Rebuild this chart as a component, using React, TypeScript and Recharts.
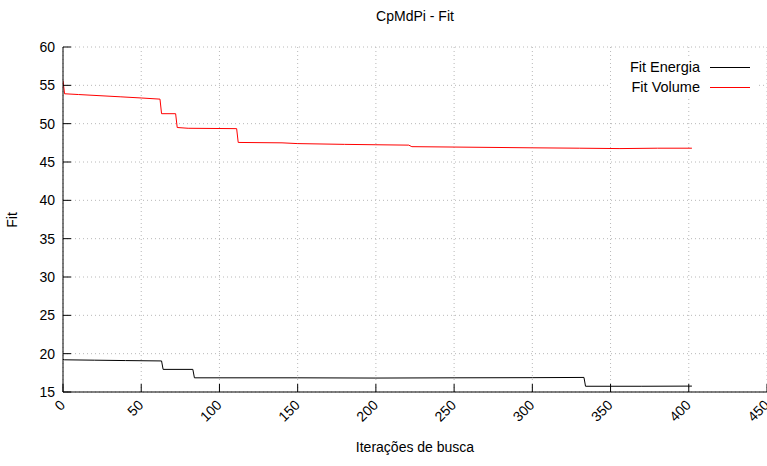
import React from 'react';
import {
  LineChart,
  Line,
  XAxis,
  YAxis,
  CartesianGrid,
  Legend
} from 'recharts';

// Iteration ticks (x) and fit ticks (y)
const iterTicks = [0, 50, 100, 150, 200, 250, 300, 350, 400, 450];
const fitTicks = [15, 20, 25, 30, 35, 40, 45, 50, 55, 60];

// Fit Volume (red)
const volumeIter = [0, 1, 10, 37, 50, 62, 63, 72, 73, 80, 111, 112, 140, 150, 180, 200, 221, 223, 250, 300, 330, 356, 380, 402];
const volumeFit = [55.6, 53.9, 53.8, 53.5, 53.35, 53.2, 51.3, 51.3, 49.5, 49.4, 49.35, 47.55, 47.5, 47.4, 47.3, 47.25, 47.2, 47.0, 46.95, 46.85, 46.8, 46.75, 46.8, 46.8];

// Fit Energia (black)
const energyIter = [0, 1, 20, 40, 63, 64, 83, 84, 150, 200, 250, 300, 333, 334, 370, 402];
const energyFit = [19.25, 19.2, 19.15, 19.1, 19.05, 17.95, 17.95, 16.85, 16.85, 16.82, 16.85, 16.87, 16.9, 15.75, 15.75, 15.77];

const volumeData = volumeIter.map((iter, i) => ({ iter, fit: volumeFit[i] }));
const energyData = energyIter.map((iter, i) => ({ iter, fit: energyFit[i] }));

const FONT = '"Liberation Sans", Arial, Helvetica, sans-serif';
const TICK_LEN = 8;

const BottomTick = ({ x, y, payload }: any) => (
  <g>
    <line x1={x} y1={y} x2={x} y2={y - TICK_LEN} stroke="#000" />
    <text
      transform={`translate(${x + 3},${y + 14}) rotate(-45)`}
      textAnchor="end"
      fontSize={14}
      fontFamily={FONT}
      fill="#000"
    >
      {payload.value}
    </text>
  </g>
);

const TopTick = ({ x, y }: any) => (
  <line x1={x} y1={y} x2={x} y2={y + TICK_LEN} stroke="#000" />
);

const LeftTick = ({ x, y, payload }: any) => (
  <g>
    <line x1={x} y1={y} x2={x + TICK_LEN} y2={y} stroke="#000" />
    <text x={x - 8} y={y} dy={5} textAnchor="end" fontSize={14} fontFamily={FONT} fill="#000">
      {payload.value}
    </text>
  </g>
);

const RightTick = ({ x, y }: any) => (
  <line x1={x} y1={y} x2={x - TICK_LEN} y2={y} stroke="#000" />
);

const legendRows = [
  { name: 'Fit Energia', color: '#000000' },
  { name: 'Fit Volume', color: '#ff0000' }
];

const LegendBox = () => (
  <div style={{ background: '#fff', width: 146, height: 42, fontFamily: FONT, fontSize: 14.5 }}>
    {legendRows.map((row) => (
      <div key={row.name} style={{ display: 'flex', alignItems: 'center', height: 20, justifyContent: 'flex-end', paddingRight: 7 }}>
        <span style={{ marginRight: 10, color: '#000' }}>{row.name}</span>
        <span style={{ display: 'inline-block', width: 40, height: 1, background: row.color }} />
      </div>
    ))}
  </div>
);

export default function App() {
  return (
    <div style={{ position: 'absolute', left: 0, top: 0, width: 767, height: 466, background: '#fff', fontFamily: FONT }}>
      <div style={{ position: 'absolute', left: 0, width: 830, top: 8, textAlign: 'center', fontSize: 14 }}>
        CpMdPi - Fit
      </div>
      <div style={{ position: 'absolute', left: 0, width: 830, top: 439, textAlign: 'center', fontSize: 14 }}>
        Iterações de busca
      </div>
      <div style={{ position: 'absolute', left: 12, top: 220, fontSize: 14, transform: 'translate(-50%, -50%) rotate(-90deg)' }}>
        Fit
      </div>
      <LineChart width={767} height={466} margin={{ top: 47, right: 0, bottom: 0, left: 0 }}>
        <CartesianGrid stroke="#b8b8b8" strokeDasharray="1 3" />
        <XAxis
          dataKey="iter"
          type="number"
          domain={[0, 450]}
          ticks={iterTicks}
          allowDataOverflow
          height={74}
          tickSize={0}
          tickMargin={0}
          tickLine={false}
          axisLine={{ stroke: '#000' }}
          tick={<BottomTick />}
          interval={0}
        />
        <XAxis
          xAxisId="top"
          orientation="top"
          dataKey="iter"
          type="number"
          domain={[0, 450]}
          ticks={iterTicks}
          height={0}
          tickSize={0}
          tickMargin={0}
          tickLine={false}
          axisLine={{ stroke: '#000' }}
          tick={<TopTick />}
          interval={0}
        />
        <YAxis
          type="number"
          domain={[15, 60]}
          ticks={fitTicks}
          allowDataOverflow
          width={63}
          tickSize={0}
          tickMargin={0}
          tickLine={false}
          axisLine={{ stroke: '#000' }}
          tick={<LeftTick />}
          interval={0}
        />
        <YAxis
          yAxisId="right"
          orientation="right"
          type="number"
          domain={[15, 60]}
          ticks={fitTicks}
          width={0}
          tickSize={0}
          tickMargin={0}
          tickLine={false}
          axisLine={{ stroke: '#000' }}
          tick={<RightTick />}
          interval={0}
        />
        <Legend
          layout="vertical"
          align="center"
          verticalAlign="middle"
          content={<LegendBox />}
          wrapperStyle={{ top: 57, left: 611, width: 146 }}
        />
        <Line
          data={energyData}
          dataKey="fit"
          name="Fit Energia"
          type="linear"
          stroke="#000000"
          strokeWidth={1}
          dot={false}
          isAnimationActive={false}
        />
        <Line
          data={volumeData}
          dataKey="fit"
          name="Fit Volume"
          type="linear"
          stroke="#ff0000"
          strokeWidth={1}
          dot={false}
          isAnimationActive={false}
        />
      </LineChart>
    </div>
  );
}
